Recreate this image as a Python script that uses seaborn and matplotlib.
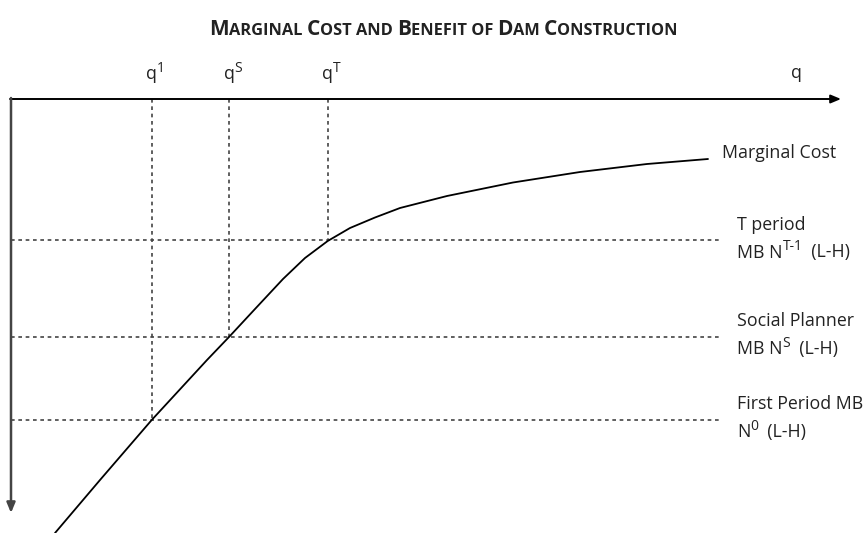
import matplotlib
matplotlib.use("Agg")
import matplotlib.pyplot as plt
import seaborn as sns
import pandas as pd

# ---- data (q: distance right of origin, c: distance below origin; units = 10 px) ----
curve_q = [4.4, 8.9, 14.07, 19.6, 21.8, 24.4, 27.2, 29.4, 31.67, 33.9, 36.4, 38.9, 43.6, 50.2, 56.9, 63.6, 69.7]
curve_c = [43.4, 38.1, 32.1, 26.1, 23.8, 21.0, 18.0, 15.9, 14.2, 12.9, 11.85, 10.9, 9.7, 8.35, 7.3, 6.5, 6.0]
mb_levels = [14.15, 23.8, 32.1]          # T period, Social Planner, First Period
q_points = [14.07, 21.8, 31.67]
q_names = ["q", "q", "q"]
q_sups = ["1", "S", "T"]
q_levels = [32.1, 23.8, 14.15]           # where each vertical dotted line stops
mb_line_end = 71.1
mb_labels = [
    [[("T period", "n")], [("MB N", "n"), ("T-1", "s"), ("  (L-H)", "n")]],
    [[("Social Planner", "n")], [("MB N", "n"), ("S", "s"), ("  (L-H)", "n")]],
    [[("First Period MB", "n")], [("N", "n"), ("0", "s"), ("  (L-H)", "n")]],
]
title_parts = [("M", True), ("ARGINAL ", False), ("C", True), ("OST AND ", False),
               ("B", True), ("ENEFIT OF ", False), ("D", True), ("AM ", False),
               ("C", True), ("ONSTRUCTION", False)]

sns.set_style("white")
FONT = "Open Sans"
plt.rcParams["font.family"] = [FONT, "DejaVu Sans"]

W_PX, H_PX = 865, 533
fig = plt.figure(figsize=(W_PX / 100, H_PX / 100), dpi=100)
ax = fig.add_axes([0, 0, 1, 1])

dot = dict(color="#444444", lw=1.2, ls=(0, (2.2, 2.2)))

# horizontal MB lines
for lvl in mb_levels:
    ax.plot([0, mb_line_end], [lvl, lvl], **dot)
# vertical q lines
for qv, lv in zip(q_points, q_levels):
    ax.plot([qv, qv], [0, lv], **dot)

# marginal cost curve
df = pd.DataFrame({"q": curve_q, "c": curve_c})
sns.lineplot(data=df, x="q", y="c", ax=ax, color="black", lw=1.3, sort=False)
ax.set_xlim(-1.1, 85.4)
ax.set_ylim(43.4, -9.9)
ax.axis("off")

# axes arrows
ax.annotate("", xy=(83.0, 0), xytext=(-0.1, 0),
            arrowprops=dict(arrowstyle="-|>,head_length=0.6,head_width=0.25",
                            color="black", lw=1.4, shrinkA=0, shrinkB=0))
ax.annotate("", xy=(0, 41.4), xytext=(0, -0.1),
            arrowprops=dict(arrowstyle="-|>,head_length=0.6,head_width=0.25",
                            color="#444444", lw=1.8, shrinkA=0, shrinkB=0))

fig.canvas.draw()
renderer = fig.canvas.get_renderer()
TXT = "#222222"


def rich(x_px, y_px, parts, size, align="left", weight="normal"):
    """parts: list of (text, kind[, size]) ; kind n=normal, s=superscript"""
    objs = []
    for p in parts:
        s, kind = p[0], p[1]
        fs = p[2] if len(p) > 2 else (size * 0.78 if kind == "s" else size)
        t = fig.text(0, 0, s, fontsize=fs, fontweight=weight, color=TXT,
                     ha="left", va="baseline")
        w = t.get_window_extent(renderer).width
        rise = size * 0.42 * 100 / 72 if kind == "s" else 0
        objs.append((t, w, rise))
    total = sum(o[1] for o in objs)
    if align == "center":
        cur = x_px - total / 2
    elif align == "firstcenter":
        cur = x_px - objs[0][1] / 2
    else:
        cur = x_px
    for t, w, rise in objs:
        t.set_position((cur / W_PX, 1 - (y_px - rise) / H_PX))
        cur += w
    return objs


def px(q, c):
    disp = ax.transData.transform((q, c))
    return disp[0], H_PX - disp[1]


FS = 12.8
# q labels
for qv, nm, sp in zip(q_points, q_names, q_sups):
    xp, _ = px(qv, 0)
    rich(xp, 79, [(nm, "n"), (sp, "s")], FS, align="firstcenter")
rich(796, 78, [("q", "n")], FS, align="center")

# right labels
rich(722.5, 158, [("Marginal Cost", "n")], FS)
for lvl, (l1, l2) in zip(mb_levels, mb_labels):
    _, yp = px(0, lvl)
    rich(737, yp - 11, l1, FS)
    rich(737, yp + 17, l2, FS)

# title in small caps
rich(443.5, 35, [(s, "n", 15.0 if big else 11.8) for s, big in title_parts],
     15.0, align="center", weight="bold")

fig.savefig("out.png", dpi=100)
